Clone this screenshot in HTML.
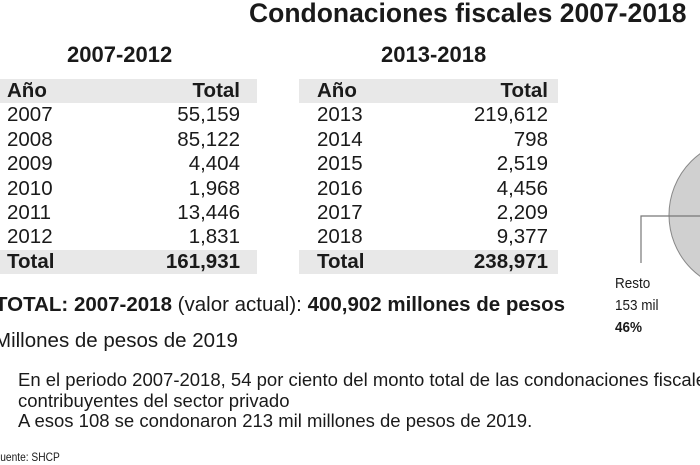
<!DOCTYPE html>
<html><head><meta charset="utf-8"><style>
body{margin:0;width:700px;height:465px;overflow:hidden;background:#fff;font-family:"Liberation Sans",sans-serif;color:#1a1a1a;position:relative}
.a{position:absolute;white-space:nowrap}
.band{position:absolute;background:#e8e8e8}
.c{transform:scaleX(0.85);transform-origin:left top}
</style></head><body>
<div class="a" style="left:249px;top:-2px;font-size:26.5px;font-weight:bold">Condonaciones fiscales 2007-2018</div>
<div class="a" style="left:67px;top:42px;font-size:22px;font-weight:bold">2007-2012</div>
<div class="a" style="left:381px;top:42px;font-size:22px;font-weight:bold">2013-2018</div>
<div class="band" style="left:0;top:79px;width:257px;height:24px"></div>
<div class="band" style="left:299px;top:79px;width:259px;height:24px"></div>
<div class="band" style="left:0;top:250px;width:257px;height:24px"></div>
<div class="band" style="left:299px;top:250px;width:259px;height:24px"></div>
<svg class="a" style="left:0;top:0" width="700" height="465">
<circle cx="745" cy="215" r="76" fill="#d0d0d0" stroke="#888" stroke-width="1"/>
<polyline points="700,216 641,216 641,263" fill="none" stroke="#777" stroke-width="1.2"/>
</svg>
<div class="a" style="left:7px;top:79px;font-size:20.5px;line-height:24.4px">
<div style="font-weight:bold">Año</div><div>2007</div><div>2008</div><div>2009</div><div>2010</div><div>2011</div><div>2012</div><div style="font-weight:bold">Total</div></div>
<div class="a" style="right:460px;top:79px;font-size:20.5px;line-height:24.4px;text-align:right">
<div style="font-weight:bold">Total</div><div>55,159</div><div>85,122</div><div>4,404</div><div>1,968</div><div>13,446</div><div>1,831</div><div style="font-weight:bold">161,931</div></div>
<div class="a" style="left:317px;top:79px;font-size:20.5px;line-height:24.4px">
<div style="font-weight:bold">Año</div><div>2013</div><div>2014</div><div>2015</div><div>2016</div><div>2017</div><div>2018</div><div style="font-weight:bold">Total</div></div>
<div class="a" style="right:152px;top:79px;font-size:20.5px;line-height:24.4px;text-align:right">
<div style="font-weight:bold">Total</div><div>219,612</div><div>798</div><div>2,519</div><div>4,456</div><div>2,209</div><div>9,377</div><div style="font-weight:bold">238,971</div></div>
<div class="a" style="left:-5px;top:293px;font-size:20.5px"><b>TOTAL: 2007-2018</b> (valor actual): <b>400,902 millones de pesos</b></div>
<div class="a" style="left:-6px;top:329px;font-size:20.5px">Millones de pesos de 2019</div>
<div class="a" style="left:615px;top:273px;font-size:15px;line-height:22px;transform:scaleX(0.9);transform-origin:left top">Resto<br>153 mil<br><b>46%</b></div>
<div class="a" style="left:18px;top:370px;font-size:18.5px;line-height:20.5px">En el periodo 2007-2018, 54 por ciento del monto total de las condonaciones fiscales<br>contribuyentes del sector privado<br>A esos 108 se condonaron 213 mil millones de pesos de 2019.</div>
<div class="a c" style="left:-6px;top:450px;font-size:12px">Fuente: SHCP</div>
</body></html>
